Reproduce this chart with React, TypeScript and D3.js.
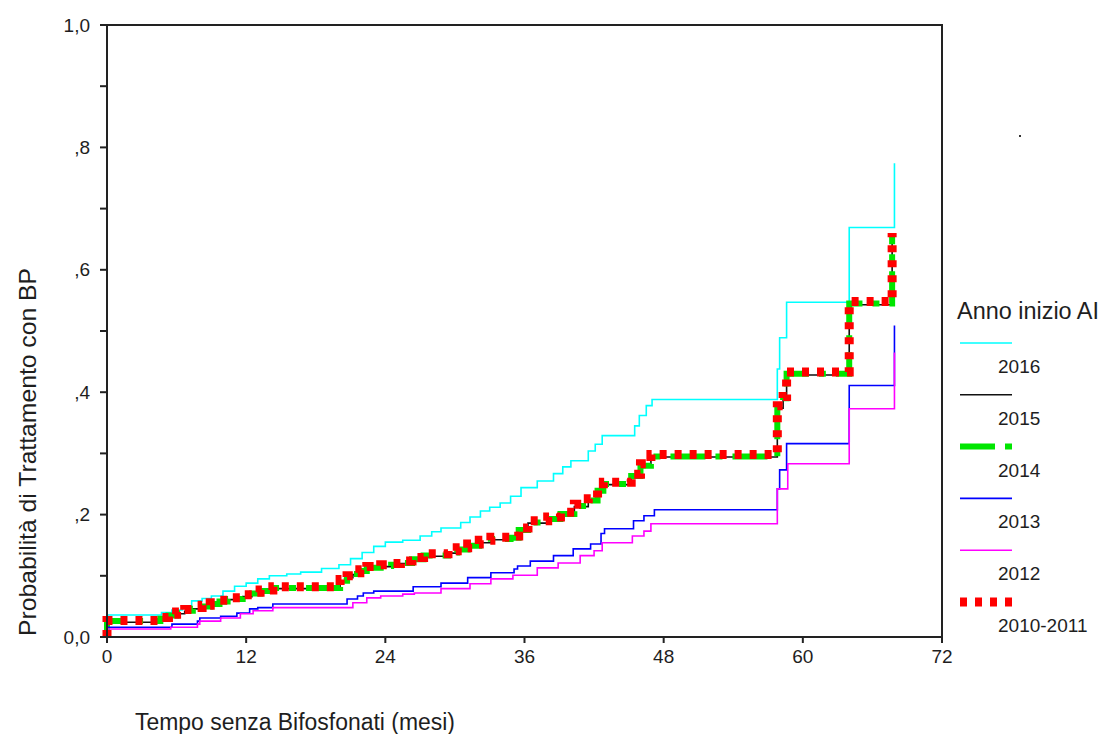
import { useEffect, useRef } from "react";
import * as d3 from "d3";

type Pt = [number, number];

// step points [mesi, probabilità]
const curve2016: Pt[] = [
  [0, 0], [0, 0.036], [4.7, 0.04], [5.6, 0.044], [6.5, 0.05], [7.3, 0.059], [8.2, 0.063], [9, 0.067],
  [10, 0.075], [11, 0.083], [12, 0.088], [13, 0.095], [14, 0.1], [15.5, 0.103], [16.7, 0.106],
  [18.5, 0.112], [20, 0.118], [21, 0.128], [22, 0.138], [23, 0.148], [24, 0.155], [25.5, 0.158],
  [27, 0.165], [28, 0.172], [28.8, 0.178], [30.5, 0.187], [31.3, 0.196], [32.2, 0.206], [33, 0.212],
  [33.9, 0.219], [34.8, 0.23], [35.7, 0.244], [37.1, 0.255], [38.5, 0.267], [39.3, 0.278], [40, 0.288],
  [41.5, 0.304], [42.1, 0.315], [42.7, 0.329], [45.5, 0.345], [45.9, 0.362], [46.5, 0.378], [47, 0.388],
  [57.8, 0.438], [58, 0.489], [58.6, 0.547], [64, 0.669], [67.9, 0.774],
];

const curve2015: Pt[] = [
  [0, 0], [0, 0.024], [4.6, 0.029], [5.3, 0.034], [6, 0.038], [6.7, 0.042], [7.4, 0.046], [8.2, 0.05],
  [8.9, 0.053], [9.7, 0.057], [10.4, 0.061], [11.7, 0.066], [12.5, 0.07], [13.2, 0.074], [14.3, 0.079],
  [20.1, 0.09], [20.7, 0.097], [21.2, 0.102], [21.8, 0.107], [22.4, 0.112], [23.6, 0.115], [24.5, 0.117],
  [25.3, 0.12], [26.3, 0.126], [27.3, 0.132], [29.4, 0.137], [30.2, 0.142], [31.1, 0.148], [32.1, 0.154],
  [33.1, 0.159], [34.8, 0.161], [35.5, 0.174], [36.3, 0.186], [38, 0.192], [39.1, 0.2], [40.3, 0.213],
  [41.5, 0.222], [42.3, 0.238], [42.8, 0.249], [45.2, 0.262], [46, 0.279], [46.9, 0.294], [57.8, 0.374],
  [58.3, 0.389], [58.6, 0.428], [64, 0.543], [67.7, 0.66],
];

const curve2014: Pt[] = [
  [0, 0], [0, 0.026], [4.6, 0.03], [5.3, 0.035], [6, 0.039], [6.7, 0.043], [7.4, 0.046], [8.2, 0.05],
  [8.9, 0.054], [9.7, 0.058], [10.4, 0.062], [11.7, 0.067], [12.5, 0.071], [13.2, 0.075], [14.3, 0.08],
  [20.1, 0.092], [20.7, 0.098], [21.2, 0.103], [21.8, 0.108], [22.4, 0.113], [23.6, 0.116], [24.5, 0.118],
  [25.3, 0.121], [26.3, 0.127], [27.3, 0.133], [29.4, 0.138], [30.2, 0.143], [31.1, 0.149], [32.1, 0.155],
  [33.1, 0.16], [34.8, 0.162], [35.5, 0.175], [36.3, 0.187], [38, 0.193], [39.1, 0.201], [40.3, 0.214],
  [41.5, 0.223], [42.3, 0.239], [42.8, 0.25], [45.2, 0.263], [46, 0.28], [46.9, 0.295], [57.8, 0.375],
  [58.3, 0.39], [58.6, 0.43], [64, 0.545], [67.7, 0.66],
];

const curve2013: Pt[] = [
  [0, 0], [0, 0.016], [5.6, 0.021], [7.8, 0.026], [8, 0.031], [9.8, 0.034], [11.2, 0.039], [12.3, 0.046],
  [13, 0.048], [14.3, 0.054], [20.7, 0.062], [21.6, 0.067], [22.1, 0.072], [23, 0.075], [26.4, 0.082],
  [28.8, 0.088], [31.1, 0.097], [33.1, 0.105], [35.1, 0.111], [35.4, 0.116], [36.5, 0.124], [38.5, 0.133],
  [40.2, 0.144], [41.7, 0.152], [42.6, 0.169], [42.9, 0.177], [45.4, 0.19], [46.3, 0.198], [47.2, 0.208],
  [57.8, 0.242], [58, 0.273], [58.6, 0.316], [64, 0.411], [67.9, 0.509],
];

const curve2012: Pt[] = [
  [0, 0], [0, 0.013], [5.5, 0.016], [7.8, 0.021], [8, 0.026], [9.8, 0.031], [11.5, 0.038], [12.6, 0.043],
  [14.3, 0.048], [21.2, 0.056], [22.4, 0.064], [23.6, 0.067], [25.5, 0.07], [26.5, 0.072], [28.8, 0.079],
  [31.3, 0.087], [33.1, 0.095], [35, 0.101], [37.1, 0.113], [38.9, 0.121], [40.8, 0.133], [42, 0.141],
  [42.7, 0.154], [45.3, 0.165], [46.3, 0.173], [46.9, 0.185], [57.8, 0.242], [58.7, 0.283], [64, 0.373],
  [67.9, 0.465],
];

const curve2010: Pt[] = [
  [0, 0], [0, 0.027], [4.6, 0.032], [5.3, 0.037], [6, 0.041], [6.7, 0.045], [7.4, 0.048], [8.2, 0.052],
  [8.9, 0.056], [9.7, 0.06], [10.4, 0.064], [11.7, 0.069], [12.5, 0.073], [13.2, 0.077], [14.3, 0.082],
  [20.1, 0.094], [20.7, 0.1], [21.2, 0.105], [21.8, 0.11], [22.4, 0.115], [23.6, 0.118], [24.5, 0.12],
  [25.3, 0.124], [26.3, 0.13], [27.3, 0.136], [29.4, 0.141], [30.2, 0.146], [31.1, 0.152], [32.1, 0.158],
  [33.1, 0.163], [34.8, 0.165], [35.5, 0.178], [36.3, 0.19], [38, 0.196], [39.1, 0.204], [40.3, 0.217],
  [41.5, 0.226], [42.3, 0.242], [42.8, 0.253], [45.2, 0.266], [46, 0.283], [46.9, 0.298], [57.8, 0.378],
  [58.3, 0.393], [58.6, 0.433], [64, 0.548], [67.7, 0.66],
];

const yearLabels = ["2016", "2015", "2014", "2013", "2012", "2010-2011"];
const xTicks = [0, 12, 24, 36, 48, 60, 72];
const yTicks = [0, 0.2, 0.4, 0.6, 0.8, 1.0];
const yTickLabels = ["0,0", ",2", ",4", ",6", ",8", "1,0"];
const yMinorTicks = [0.1, 0.3, 0.5, 0.7, 0.9];

const FONT = "'Liberation Sans', Arial, sans-serif";
const INK = "#1e1e1e";

export default function App() {
  const ref = useRef<SVGSVGElement>(null);

  useEffect(() => {
    const svg = d3.select(ref.current);
    svg.selectAll("*").remove();

    const width = 1102;
    const height = 734;
    const box = { left: 107, right: 942, top: 25, bottom: 637 };

    svg.attr("width", width).attr("height", height);

    const x = d3.scaleLinear().domain([0, 72]).range([box.left, box.right]);
    const y = d3.scaleLinear().domain([0, 1]).range([box.bottom, box.top]);

    const series = [
      { name: yearLabels[0], data: curve2016, color: "#00ffff", width: 1.6, dash: null },
      { name: yearLabels[1], data: curve2015, color: "#111111", width: 1.6, dash: null },
      { name: yearLabels[2], data: curve2014, color: "#00e600", width: 6, dash: "35 10 7 10" },
      { name: yearLabels[3], data: curve2013, color: "#0000ff", width: 1.6, dash: null },
      { name: yearLabels[4], data: curve2012, color: "#ff00ff", width: 1.6, dash: null },
      { name: yearLabels[5], data: curve2010, color: "#ff0000", width: 9, dash: "7 8" },
    ];

    const line = d3.line<Pt>()
      .x(d => x(d[0]))
      .y(d => y(d[1]))
      .curve(d3.curveStepAfter);

    svg.append("g")
      .selectAll("path")
      .data(series)
      .join("path")
      .attr("d", d => line(d.data))
      .attr("fill", "none")
      .attr("stroke", d => d.color)
      .attr("stroke-width", d => d.width)
      .attr("stroke-dasharray", d => d.dash)
      .attr("stroke-linecap", "butt");

    // frame
    svg.append("rect")
      .attr("x", box.left)
      .attr("y", box.top)
      .attr("width", box.right - box.left)
      .attr("height", box.bottom - box.top)
      .attr("fill", "none")
      .attr("stroke", "#222")
      .attr("stroke-width", 2);

    // y ticks
    svg.append("g")
      .selectAll("line")
      .data(yTicks.concat(yMinorTicks))
      .join("line")
      .attr("x1", box.left - 7)
      .attr("x2", box.left)
      .attr("y1", d => y(d))
      .attr("y2", d => y(d))
      .attr("stroke", "#222")
      .attr("stroke-width", 2);

    svg.append("g")
      .selectAll("text")
      .data(yTicks)
      .join("text")
      .attr("x", 90)
      .attr("y", d => y(d) + 6.5)
      .attr("text-anchor", "end")
      .attr("font-family", FONT)
      .attr("font-size", 19)
      .attr("fill", INK)
      .text((d, i) => yTickLabels[i]);

    // x ticks
    svg.append("g")
      .selectAll("line")
      .data(xTicks)
      .join("line")
      .attr("x1", d => x(d))
      .attr("x2", d => x(d))
      .attr("y1", box.bottom)
      .attr("y2", box.bottom + 6)
      .attr("stroke", "#222")
      .attr("stroke-width", 2);

    svg.append("g")
      .selectAll("text")
      .data(xTicks)
      .join("text")
      .attr("x", d => x(d))
      .attr("y", 663)
      .attr("text-anchor", "middle")
      .attr("font-family", FONT)
      .attr("font-size", 19)
      .attr("fill", INK)
      .text(d => String(d));

    // axis titles
    svg.append("text")
      .attr("x", 135)
      .attr("y", 730)
      .attr("font-family", FONT)
      .attr("font-size", 23)
      .attr("fill", INK)
      .attr("textLength", 320)
      .attr("lengthAdjust", "spacingAndGlyphs")
      .text("Tempo senza Bifosfonati (mesi)");

    svg.append("text")
      .attr("transform", "translate(36,452) rotate(-90)")
      .attr("text-anchor", "middle")
      .attr("font-family", FONT)
      .attr("font-size", 24)
      .attr("fill", INK)
      .attr("textLength", 368)
      .attr("lengthAdjust", "spacingAndGlyphs")
      .text("Probabilità di Trattamento con BP");

    // legend
    const legend = svg.append("g");
    legend.append("text")
      .attr("x", 957)
      .attr("y", 319)
      .attr("font-family", FONT)
      .attr("font-size", 23)
      .attr("fill", INK)
      .attr("textLength", 142)
      .attr("lengthAdjust", "spacingAndGlyphs")
      .text("Anno inizio AI");

    const rowY = (i: number) => 343 + i * 51.8;

    legend.selectAll("line")
      .data(series)
      .join("line")
      .attr("x1", 960)
      .attr("x2", 1012)
      .attr("y1", (d, i) => rowY(i))
      .attr("y2", (d, i) => rowY(i))
      .attr("stroke", d => d.color)
      .attr("stroke-width", d => d.width)
      .attr("stroke-dasharray", d => d.dash);

    legend.selectAll("text.lab")
      .data(series)
      .join("text")
      .attr("class", "lab")
      .attr("x", 998)
      .attr("y", (d, i) => rowY(i) + 30)
      .attr("font-family", FONT)
      .attr("font-size", 19)
      .attr("fill", INK)
      .text(d => d.name);

    // stray dot in the original
    svg.append("rect")
      .attr("x", 1019)
      .attr("y", 135)
      .attr("width", 2)
      .attr("height", 2)
      .attr("fill", "#333");
  }, []);

  return <svg ref={ref} style={{ position: "absolute", left: 0, top: 0 }}></svg>;
}
